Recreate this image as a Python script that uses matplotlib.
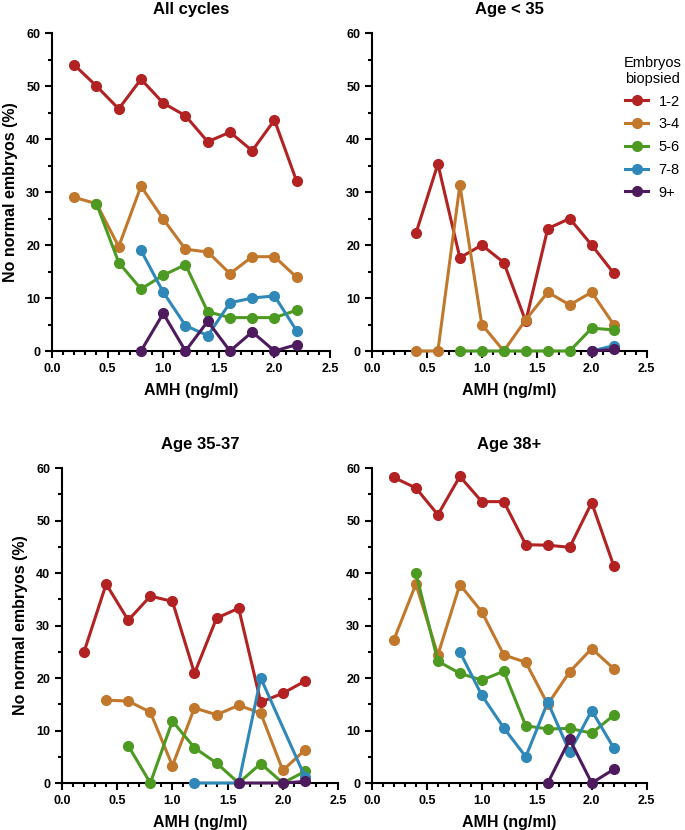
import numpy as np
import matplotlib
matplotlib.use("Agg")
import matplotlib.pyplot as plt
from matplotlib.ticker import MultipleLocator

plt.rcParams['font.family'] = ['Liberation Sans', 'DejaVu Sans']

# AMH bins (ng/ml)
amh = [0.2, 0.4, 0.6, 0.8, 1.0, 1.2, 1.4, 1.6, 1.8, 2.0, 2.2]

groups = ["1-2", "3-4", "5-6", "7-8", "9+"]
colors = ["#b32222", "#c1782c", "#4c9a22", "#2f88b8", "#4e1a5e"]
titles = ["All cycles", "Age < 35", "Age 35-37", "Age 38+"]

# each series: (x values, y values) in % with no normal embryos
all_cycles = {
    "1-2": (amh, [54.0, 50.0, 45.7, 51.3, 46.8, 44.4, 39.5, 41.3, 37.8, 43.6, 32.0]),
    "3-4": (amh, [29.0, 27.8, 19.7, 31.1, 24.9, 19.2, 18.7, 14.6, 17.8, 17.8, 13.9]),
    "5-6": (amh[1:], [27.8, 16.7, 11.7, 14.3, 16.3, 7.4, 6.3, 6.3, 6.3, 7.7]),
    "7-8": (amh[3:], [19.0, 11.1, 4.8, 2.9, 9.1, 10.0, 10.4, 3.8]),
    "9+": (amh[3:], [0.0, 7.1, 0.0, 5.6, 0.0, 3.6, 0.0, 1.2]),
}
age_lt35 = {
    "1-2": (amh[1:], [22.2, 35.3, 17.6, 20.0, 16.7, 5.6, 23.1, 25.0, 20.0, 14.7]),
    "3-4": (amh[1:], [0.0, 0.0, 31.3, 5.0, 0.0, 5.9, 11.1, 8.7, 11.1, 5.0]),
    "5-6": (amh[3:], [0.0, 0.0, 0.0, 0.0, 0.0, 0.0, 4.3, 4.0]),
    "7-8": (amh[9:], [0.0, 1.0]),
    "9+": (amh[9:], [0.0, 0.3]),
}
age_35_37 = {
    "1-2": (amh, [25.0, 37.9, 31.0, 35.6, 34.6, 20.9, 31.4, 33.3, 15.4, 17.1, 19.4]),
    "3-4": (amh[1:], [15.8, 15.6, 13.5, 3.3, 14.3, 13.0, 14.8, 13.3, 2.4, 6.3]),
    "5-6": (amh[2:], [7.1, 0.0, 11.8, 6.7, 3.8, 0.0, 3.7, 0.0, 2.2]),
    "7-8": ([1.2, 1.6, 1.8, 2.2], [0.0, 0.0, 20.0, 1.2]),
    "9+": ([1.6, 2.0, 2.2], [0.0, 0.0, 0.3]),
}
age_38 = {
    "1-2": (amh, [58.2, 56.2, 51.1, 58.4, 53.6, 53.6, 45.4, 45.3, 44.9, 53.4, 41.4]),
    "3-4": (amh, [27.3, 37.9, 24.4, 37.8, 32.6, 24.4, 23.0, 15.0, 21.2, 25.6, 21.8]),
    "5-6": (amh[1:], [40.0, 23.2, 20.9, 19.6, 21.3, 10.9, 10.3, 10.4, 9.5, 12.9]),
    "7-8": (amh[3:], [25.0, 16.7, 10.5, 5.0, 15.4, 5.9, 13.8, 6.7]),
    "9+": (amh[7:], [0.0, 8.3, 0.0, 2.6]),
}
panels = [all_cycles, age_lt35, age_35_37, age_38]

# axes rectangles in figure coords
rects = [
    [0.0759, 0.5771, 0.406, 0.383],
    [0.543, 0.5771, 0.401, 0.383],
    [0.0905, 0.0566, 0.403, 0.3795],
    [0.543, 0.0566, 0.401, 0.3795],
]

fig = plt.figure(figsize=(6.85, 8.3), dpi=100)

handles = []
for i, (data, title, rect) in enumerate(zip(panels, titles, rects)):
    ax = fig.add_axes(rect)
    for k, (g, c) in enumerate(zip(groups, colors)):
        xs, ys = data[g]
        ln, = ax.plot(xs, ys, color=c, lw=2.2, marker="o", ms=7,
                      clip_on=False, zorder=3 + k * 0.1)
        if i == 0:
            handles.append(ln)
    ax.set_xlim(0, 2.5)
    ax.set_ylim(0, 60)
    ax.xaxis.set_major_locator(MultipleLocator(0.5))
    ax.xaxis.set_minor_locator(MultipleLocator(0.1))
    ax.yaxis.set_major_locator(MultipleLocator(10))
    ax.yaxis.set_minor_locator(MultipleLocator(5))
    ax.xaxis.set_major_formatter(matplotlib.ticker.FormatStrFormatter("%.1f"))
    for s in ["top", "right"]:
        ax.spines[s].set_visible(False)
    for s in ["left", "bottom"]:
        ax.spines[s].set_linewidth(1.5)
    ax.tick_params(which="major", length=5, width=1.5, labelsize=9)
    ax.tick_params(which="minor", length=3, width=1.5)
    for lab in ax.get_xticklabels() + ax.get_yticklabels():
        lab.set_fontweight("bold")
    ax.set_title(title, fontsize=12, fontweight="bold", pad=14)
    ax.set_xlabel("AMH (ng/ml)", fontsize=11.5, fontweight="bold", labelpad=6)
    if i in (0, 2):
        ax.set_ylabel("No normal embryos (%)", fontsize=11.5, fontweight="bold",
                      labelpad=6)

leg = fig.legend(handles, groups, title="Embryos\nbiopsied",
                 loc="upper right", bbox_to_anchor=(1.003, 0.94),
                 frameon=False, fontsize=10.5, title_fontsize=10.5,
                 handlelength=1.6, labelspacing=0.6, handletextpad=0.7,
                 borderaxespad=0.0)
leg.get_title().set_multialignment("center")

fig.savefig("out.png", dpi=100)
